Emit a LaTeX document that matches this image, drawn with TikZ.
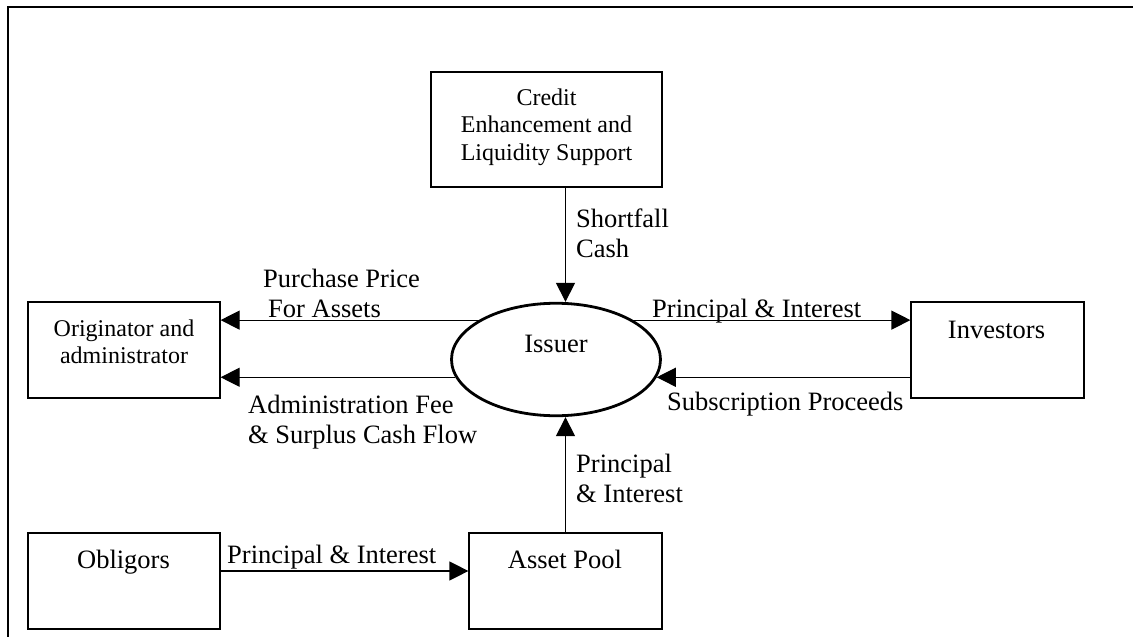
\documentclass[tikz,border=0pt]{standalone}
\usepackage{fontspec}
\setmainfont{Liberation Serif}
\usetikzlibrary{arrows.meta, shapes.geometric}

\begin{document}
\begin{tikzpicture}[x=1pt, y=-1pt,
        box/.style={draw, line width=1.2pt, inner sep=0pt},
        flow/.style={line width=1.2pt, -{Triangle[length=19pt, width=19pt]}},
        big/.style={font=\fontsize{26.5}{30}\selectfont, inner sep=0pt},
        small/.style={font=\fontsize{24}{27.5}\selectfont, inner sep=0pt}]
        \useasboundingbox (0,0) rectangle (1133,637);
        \draw [line width=2pt] (8.3,650) -- (8.3,6.7) -- (1150,6.7);
        % boxes
        \node [box, minimum width=231pt, minimum height=115pt] (credit) at (546.5,129.5) {};
        \node [box, minimum width=192pt, minimum height=96pt] (orig) at (124,350) {};
        \node [box, minimum width=173pt, minimum height=96pt] (investors) at (997.5,350) {};
        \node [box, minimum width=192pt, minimum height=96pt] (obligors) at (124,581) {};
        \node [box, minimum width=193pt, minimum height=96pt] (pool) at (565.5,581) {};
        \node [ellipse, draw, line width=2.8pt, minimum width=209pt, minimum height=112.5pt, inner sep=0pt] (issuer) at (556,359.5) {};
        % texts in the boxes
        \node [small, align=center, anchor=north] (credittext) at (546.5,88.6) {Credit\\Enhancement and\\Liquidity Support};
        \node [small, align=center, anchor=north] (origtext) at (124,319.6) {Originator and\\administrator};
        \node [big, anchor=base] (issuertext) at (556,352) {Issuer};
        \node [big, anchor=base] (investorstext) at (996.5,338) {Investors};
        \node [big, anchor=base] (obligorstext) at (123.5,568) {Obligors};
        \node [big, anchor=base] (pooltext) at (565,568) {Asset Pool};
        % flows
        \draw [flow] (credit.south -| pool.north) -- (pool.north |- issuer.north);
        \draw [flow] (pool.north) -- (pool.north |- issuer.south);
        \draw [flow] (issuer.153) -- (orig.east |- issuer.153);
        \draw [flow] (issuer.190) -- (orig.east |- issuer.190);
        \draw [flow] (issuer.27) -- (investors.west |- issuer.27);
        \draw [flow] (investors.west |- issuer.350) -- (issuer.350);
        \draw [flow] ([yshift=10pt]obligors.east) -- ([yshift=10pt]pool.west);
        % labels
        \node [big, align=left, anchor=north west] (shortfall) at (576,208.6) {Shortfall\\Cash};
        \node [big, align=left, anchor=north west] (price) at (263,269.2) {Purchase Price\\\hspace*{5pt}For Assets};
        \node [big, align=left, anchor=north west] (fee) at (248,395.2) {Administration Fee\\\& Surplus Cash Flow};
        \node [big, anchor=base west] (paid) at (652,317) {Principal \& Interest};
        \node [big, anchor=base west] (proceeds) at (667,410) {Subscription Proceeds};
        \node [big, align=left, anchor=north west] (collected) at (576,453.6) {Principal\\\& Interest};
        \node [big, anchor=base west] (payments) at (227,563) {Principal \& Interest};
\end{tikzpicture}
\end{document}
